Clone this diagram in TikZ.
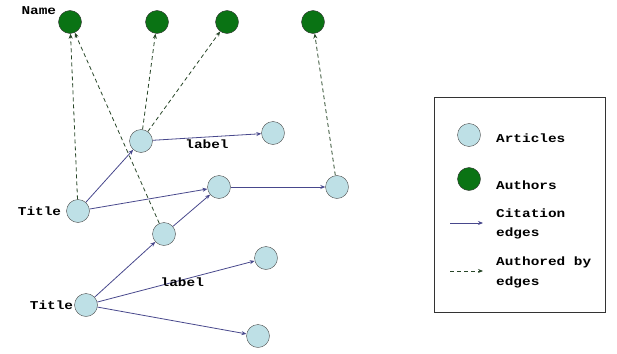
\documentclass[tikz,border=0pt]{standalone}
\usepackage{fontspec}
\newfontfamily\lblfont[FakeStretch=1.2]{Liberation Mono}
\usepackage{xcolor}
\usetikzlibrary{arrows.meta,positioning}

\definecolor{articlefill}{RGB}{190,224,230}
\definecolor{authorfill}{RGB}{10,115,20}
\definecolor{citecol}{RGB}{72,72,140}
\definecolor{authcol}{RGB}{40,70,40}

\begin{document}
\begin{tikzpicture}[x=1pt,y=-1pt,
    article/.style={circle,draw=black!70,fill=articlefill,minimum size=23pt,inner sep=0pt},
    author/.style={circle,draw=black!80,fill=authorfill,minimum size=23pt,inner sep=0pt},
    lbl/.style={font=\lblfont\bfseries\fontsize{12}{13}\selectfont,text=black,inner sep=1pt},
    cite/.style={-{Stealth[length=5pt,width=4pt]},citecol,thick},
    authby/.style={-{Stealth[length=5pt,width=4pt]},authcol,thick,dash pattern=on 4pt off 3pt}]
    \useasboundingbox (0,0) rectangle (617,353);

    % Authors
    \node[author] (A1) at (70,22) {};
    \node[author] (A2) at (157,22) {};
    \node[author] (A3) at (227,22) {};
    \node[author] (A4) at (313,22) {};

    % Articles
    \node[article] (B) at (141,141) {};
    \node[article] (C) at (273,133) {};
    \node[article] (T1) at (78,211) {};
    \node[article] (D) at (219,187) {};
    \node[article] (E) at (337,187) {};
    \node[article] (F) at (164,234) {};
    \node[article] (G) at (266,258) {};
    \node[article] (T2) at (86,305) {};
    \node[article] (H) at (258,336) {};

    % Labels
    \node[lbl,left=1pt of A1,yshift=11pt] {Name};
    \node[lbl,left=4pt of T1] {Title};
    \node[lbl,left=0pt of T2] {Title};

    % Authored-by edges
    \draw[authby] (T1) -- (A1);
    \draw[authby] (F) -- (A1);
    \draw[authby] (B) -- (A2);
    \draw[authby] (B) -- (A3);
    \draw[authby] (E) -- (A4);

    % Citation edges
    \draw[cite] (T1) -- (B);
    \draw[cite] (T1) -- (D);
    \draw[cite] (B) -- node[lbl,below=1pt] {label} (C);
    \draw[cite] (F) -- (D);
    \draw[cite] (D) -- (E);
    \draw[cite] (T2) -- (F);
    \draw[cite] (T2) -- node[lbl,pos=0.54,yshift=-2pt] {label} (G);
    \draw[cite] (T2) -- (H);

    % Legend
    \draw[black!80,thick] (434,97) rectangle (605,312);
    \node[article] (LA) at (469,135) {};
    \node[author] (LB) at (469,179) {};
    \node[lbl,anchor=west] at (495,138) {Articles};
    \node[lbl,anchor=west] at (495,185) {Authors};
    \coordinate (c1) at (450,223);
    \coordinate (c2) at (483,223);
    \draw[cite] (c1) -- (c2);
    \node[lbl,anchor=west] at (495,213) {Citation};
    \node[lbl,anchor=west] at (495,233) {edges};
    \coordinate (d1) at (450,271);
    \coordinate (d2) at (483,271);
    \draw[authby] (d1) -- (d2);
    \node[lbl,anchor=west] at (495,262) {Authored by};
    \node[lbl,anchor=west] at (495,282) {edges};
\end{tikzpicture}
\end{document}
